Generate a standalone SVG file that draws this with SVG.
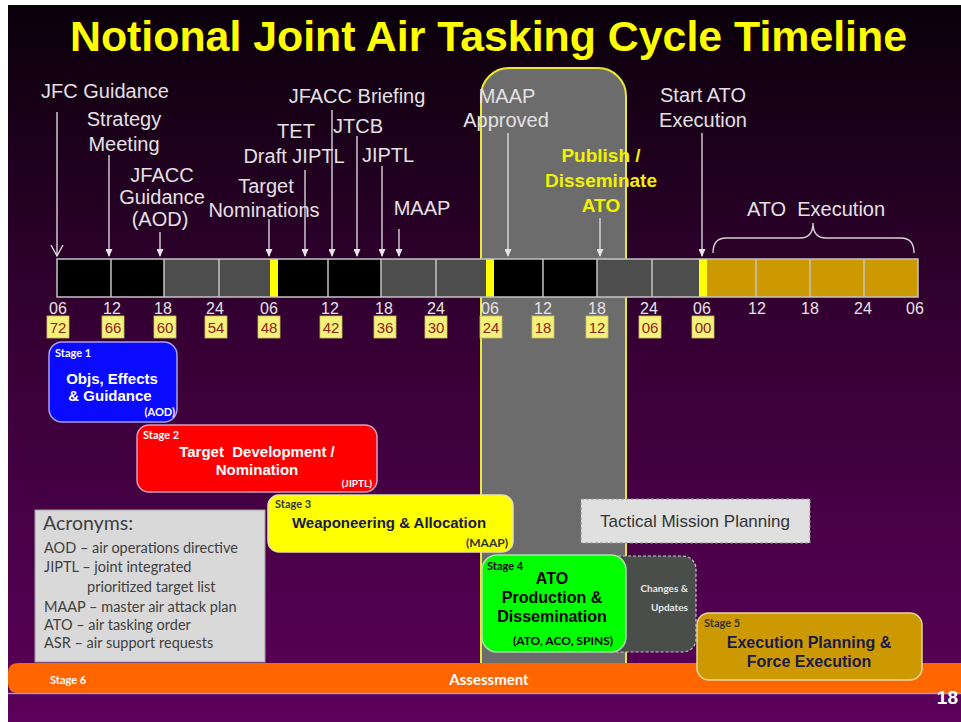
<svg xmlns="http://www.w3.org/2000/svg" width="961" height="722" viewBox="0 0 961 722">
<defs>
<linearGradient id="bg" x1="0" y1="0" x2="0" y2="1">
<stop offset="0" stop-color="#0a000a"/>
<stop offset="0.45" stop-color="#350033"/>
<stop offset="1" stop-color="#5c005a"/>
</linearGradient>
<marker id="ah" markerWidth="8" markerHeight="7" refX="7" refY="3.5" orient="auto" markerUnits="userSpaceOnUse">
<path d="M0,0 L8,3.5 L0,7 z" fill="#e6e2e6"/>
</marker>
<marker id="av" markerWidth="12" markerHeight="14" refX="11" refY="7" orient="auto" markerUnits="userSpaceOnUse">
<path d="M0,1 L11,7 L0,13" fill="none" stroke="#e6e2e6" stroke-width="1.3"/>
</marker>
</defs>
<style>
.lbl{font-family:"Liberation Sans",Arial,sans-serif;font-size:20px;fill:#e4e0e4;text-anchor:middle}
.pub{font-family:"Liberation Sans",Arial,sans-serif;font-size:19px;font-weight:bold;fill:#f2f200;text-anchor:middle}
.tm{font-family:"Liberation Sans",Arial,sans-serif;font-size:16px;fill:#e6e2e6;text-anchor:middle}
.nb{fill:#f7f27a;stroke:#c8c060;stroke-width:0.8}
.nt{font-family:"Liberation Sans",Arial,sans-serif;font-size:15px;fill:#8e2418;text-anchor:middle}
.conn line{stroke:#e6e2e6;stroke-width:1.3;marker-end:url(#ah)}
.stg{font-family:Lato,"Open Sans",sans-serif;font-size:11px;font-weight:bold}
.st{font-family:"Liberation Sans",Arial,sans-serif;font-weight:bold;text-anchor:middle}
.cal{font-family:Lato,"Open Sans",sans-serif}
.acr{font-family:Lato,"Open Sans",sans-serif;font-size:14.5px;fill:#404040}
.sep{stroke:#c4c4c4;stroke-width:1.5}
</style>
<rect x="0" y="0" width="961" height="722" fill="#ffffff"/>
<rect x="8" y="5" width="953" height="717" fill="url(#bg)"/>
<text x="70" y="51" font-family="'Liberation Sans',Arial,sans-serif" font-size="43" font-weight="bold" fill="#ffff00" textLength="837" lengthAdjust="spacingAndGlyphs">Notional Joint Air Tasking Cycle Timeline</text>

<g id="highlight">
<rect x="481" y="68" width="145" height="622" rx="28" fill="#6c6c6c" stroke="#e8e838" stroke-width="2"/>
</g>

<g id="timeline">
<rect x="57" y="259" width="107" height="38" fill="#000000"/>
<rect x="164" y="259" width="106" height="38" fill="#4d4d4d"/>
<rect x="270" y="259" width="8" height="38" fill="#ffff00"/>
<rect x="278" y="259" width="103" height="38" fill="#000000"/>
<rect x="381" y="259" width="105" height="38" fill="#4d4d4d"/>
<rect x="486" y="259" width="8" height="38" fill="#ffff00"/>
<rect x="494" y="259" width="103" height="38" fill="#000000"/>
<rect x="597" y="259" width="102" height="38" fill="#4d4d4d"/>
<rect x="699" y="259" width="8" height="38" fill="#ffff00"/>
<rect x="707" y="259" width="211" height="38" fill="#cc9900"/>
<g class="sep">
<line x1="111" y1="259" x2="111" y2="297"/>
<line x1="164" y1="259" x2="164" y2="297"/>
<line x1="219" y1="259" x2="219" y2="297"/>
<line x1="328" y1="259" x2="328" y2="297"/>
<line x1="381" y1="259" x2="381" y2="297"/>
<line x1="436" y1="259" x2="436" y2="297"/>
<line x1="543" y1="259" x2="543" y2="297"/>
<line x1="597" y1="259" x2="597" y2="297"/>
<line x1="652" y1="259" x2="652" y2="297"/>
<line x1="756" y1="259" x2="756" y2="297"/>
<line x1="810" y1="259" x2="810" y2="297"/>
<line x1="864" y1="259" x2="864" y2="297"/>
</g>
<rect x="57" y="259" width="861" height="38" fill="none" stroke="#c4c4c4" stroke-width="1.5"/>
<text class="tm" x="58" y="314">06</text>
<text class="tm" x="112" y="314">12</text>
<text class="tm" x="163" y="314">18</text>
<text class="tm" x="215" y="314">24</text>
<text class="tm" x="269" y="314">06</text>
<text class="tm" x="330" y="314">12</text>
<text class="tm" x="384" y="314">18</text>
<text class="tm" x="436" y="314">24</text>
<text class="tm" x="490" y="314">06</text>
<text class="tm" x="543" y="314">12</text>
<text class="tm" x="597" y="314">18</text>
<text class="tm" x="649" y="314">24</text>
<text class="tm" x="702" y="314">06</text>
<text class="tm" x="757" y="314">12</text>
<text class="tm" x="810" y="314">18</text>
<text class="tm" x="863" y="314">24</text>
<text class="tm" x="915" y="314">06</text>
<rect class="nb" x="47" y="316" width="22" height="22"/><text class="nt" x="58" y="333">72</text>
<rect class="nb" x="102" y="316" width="22" height="22"/><text class="nt" x="113" y="333">66</text>
<rect class="nb" x="154" y="316" width="22" height="22"/><text class="nt" x="165" y="333">60</text>
<rect class="nb" x="205" y="316" width="22" height="22"/><text class="nt" x="216" y="333">54</text>
<rect class="nb" x="258" y="316" width="22" height="22"/><text class="nt" x="269" y="333">48</text>
<rect class="nb" x="320" y="316" width="22" height="22"/><text class="nt" x="331" y="333">42</text>
<rect class="nb" x="374" y="316" width="22" height="22"/><text class="nt" x="385" y="333">36</text>
<rect class="nb" x="425" y="316" width="22" height="22"/><text class="nt" x="436" y="333">30</text>
<rect class="nb" x="480" y="316" width="22" height="22"/><text class="nt" x="491" y="333">24</text>
<rect class="nb" x="532" y="316" width="22" height="22"/><text class="nt" x="543" y="333">18</text>
<rect class="nb" x="586" y="316" width="22" height="22"/><text class="nt" x="597" y="333">12</text>
<rect class="nb" x="639" y="316" width="22" height="22"/><text class="nt" x="650" y="333">06</text>
<rect class="nb" x="692" y="316" width="22" height="22"/><text class="nt" x="703" y="333">00</text>
</g>

<g id="events">
<text class="lbl" x="105" y="98">JFC Guidance</text>
<text class="lbl" x="124" y="126">Strategy</text>
<text class="lbl" x="124" y="151">Meeting</text>
<text class="lbl" x="162" y="182">JFACC</text>
<text class="lbl" x="162" y="204">Guidance</text>
<text class="lbl" x="160" y="226">(AOD)</text>
<text class="lbl" x="266" y="193">Target</text>
<text class="lbl" x="264" y="217">Nominations</text>
<text class="lbl" x="296" y="138">TET</text>
<text class="lbl" x="294" y="163">Draft JIPTL</text>
<text class="lbl" x="357" y="103">JFACC Briefing</text>
<text class="lbl" x="358" y="133">JTCB</text>
<text class="lbl" x="388" y="162">JIPTL</text>
<text class="lbl" x="422" y="215">MAAP</text>
<text class="lbl" x="507" y="103">MAAP</text>
<text class="lbl" x="506" y="127">Approved</text>
<text class="pub" x="601" y="162">Publish /</text>
<text class="pub" x="601" y="187">Disseminate</text>
<text class="pub" x="601" y="212">ATO</text>
<text class="lbl" x="703" y="102">Start ATO</text>
<text class="lbl" x="703" y="127">Execution</text>
<text class="lbl" x="816" y="216" xml:space="preserve">ATO  Execution</text>
</g>

<g id="connectors" class="conn">
<line x1="57" y1="112" x2="57" y2="256" style="marker-end:url(#av)"/>
<line x1="109" y1="155" x2="109" y2="256"/>
<line x1="160" y1="232" x2="160" y2="256"/>
<line x1="269" y1="219" x2="269" y2="256"/>
<line x1="305" y1="170" x2="305" y2="256"/>
<line x1="332" y1="110" x2="332" y2="256"/>
<line x1="357" y1="136" x2="357" y2="256"/>
<line x1="382" y1="166" x2="382" y2="256"/>
<line x1="399" y1="229" x2="399" y2="256"/>
<line x1="508" y1="133" x2="508" y2="256"/>
<line x1="600" y1="218" x2="600" y2="256"/>
<line x1="702" y1="133" x2="702" y2="256"/>
<path d="M713,253 Q713,238 726,238 L800,238 Q813,238 813,223 Q813,238 826,238 L901,238 Q914,238 914,253" fill="none" stroke="#d8d0d8" stroke-width="1.4"/>
</g>

<g id="acronyms">
<rect x="35" y="510" width="230" height="152" fill="#d9d9d9" stroke="#a0a0a0" stroke-width="1"/>
<text class="cal" x="43" y="530" font-size="19.5" fill="#404040">Acronyms:</text>
<text class="acr" x="44" y="553">AOD – air operations directive</text>
<text class="acr" x="44" y="572">JIPTL – joint integrated</text>
<text class="acr" x="87" y="592">prioritized target list</text>
<text class="acr" x="44" y="612">MAAP – master air attack plan</text>
<text class="acr" x="44" y="630">ATO – air tasking order</text>
<text class="acr" x="44" y="648">ASR – air support requests</text>
</g>

<g id="stage1">
<rect x="49" y="342" width="128" height="80" rx="13" fill="#0a0aff" stroke="#a8a0f0" stroke-width="1.5"/>
<text class="stg" x="55" y="357" fill="#ffffff">Stage 1</text>
<text class="st" x="112" y="384" font-size="15" fill="#ffffff">Objs, Effects</text>
<text class="st" x="110" y="401" font-size="15" fill="#ffffff">&amp; Guidance</text>
<text class="cal" x="175" y="416" font-size="11" font-weight="bold" fill="#ffffff" text-anchor="end">(AOD)</text>
</g>

<g id="stage2">
<rect x="137" y="425" width="240" height="67" rx="12" fill="#ff0000" stroke="#d8a0c0" stroke-width="1.5"/>
<text class="stg" x="143" y="439" fill="#ffffff">Stage 2</text>
<text class="st" x="257" y="457" font-size="15" fill="#ffffff" xml:space="preserve">Target  Development /</text>
<text class="st" x="257" y="475" font-size="15" fill="#ffffff">Nomination</text>
<text class="cal" x="372" y="487" font-size="10" font-weight="bold" fill="#ffffff" text-anchor="end">(JIPTL)</text>
</g>

<g id="stage3">
<rect x="268" y="495" width="245" height="57" rx="11" fill="#ffff00" stroke="#e8e0b0" stroke-width="1.5"/>
<text class="stg" x="275" y="508" fill="#333333">Stage 3</text>
<text class="st" x="389" y="528" font-size="15" fill="#1a1a4d">Weaponeering &amp; Allocation</text>
<text class="cal" x="508" y="547" font-size="12" font-weight="bold" fill="#333333" text-anchor="end">(MAAP)</text>
</g>

<g id="tactical">
<rect x="581" y="499" width="229" height="44" fill="#e0e0e0" stroke="#909090" stroke-width="1" stroke-dasharray="3,2"/>
<text x="695" y="527" font-family="'Liberation Sans',Arial,sans-serif" font-size="17" fill="#333333" text-anchor="middle">Tactical Mission Planning</text>
</g>

<g id="changes">
<rect x="600" y="556" width="96" height="96" rx="13" fill="#4a4e4a" stroke="#c8c8c8" stroke-width="1.2" stroke-dasharray="3,2"/>
<text class="cal" x="688" y="592" font-size="10" font-weight="bold" fill="#e8e8e8" text-anchor="end">Changes &amp;</text>
<text class="cal" x="688" y="611" font-size="10" font-weight="bold" fill="#e8e8e8" text-anchor="end">Updates</text>
</g>

<g id="stage4">
<rect x="482" y="555" width="144" height="97" rx="15" fill="#00ff00" stroke="#b0e0b0" stroke-width="1.5"/>
<text class="stg" x="487" y="570" fill="#000000">Stage 4</text>
<text class="st" x="552" y="584" font-size="16" fill="#000000">ATO</text>
<text class="st" x="552" y="603" font-size="16" fill="#000000">Production &amp;</text>
<text class="st" x="552" y="622" font-size="16" fill="#000000">Dissemination</text>
<text class="cal" x="563" y="645" font-size="12" font-weight="bold" fill="#000000" text-anchor="middle">(ATO, ACO, SPINS)</text>
</g>

<g id="stage6">
<path d="M961,663 L18,663 Q8,663 8,673 L8,683 Q8,693 18,693 L961,693 Z" fill="#ff6600"/>
<line x1="8" y1="693.5" x2="961" y2="693.5" stroke="#b090d0" stroke-width="1.5"/>
<text class="stg" x="50" y="684" fill="#ffffff">Stage 6</text>
<text class="cal" x="489" y="685" font-size="15" font-weight="bold" fill="#ffffff" text-anchor="middle">Assessment</text>
</g>

<g id="stage5">
<rect x="697" y="613" width="225" height="67" rx="12" fill="#cc9900" stroke="#e8d8a0" stroke-width="1.5"/>
<text class="stg" x="704" y="627" fill="#333333">Stage 5</text>
<text class="st" x="809" y="648" font-size="16" fill="#1a1a4d">Execution Planning &amp;</text>
<text class="st" x="809" y="667" font-size="16" fill="#1a1a4d">Force Execution</text>
</g>

<text x="958" y="704" font-family="'Liberation Sans',Arial,sans-serif" font-size="19" font-weight="bold" fill="#ffffff" text-anchor="end">18</text>
</svg>
